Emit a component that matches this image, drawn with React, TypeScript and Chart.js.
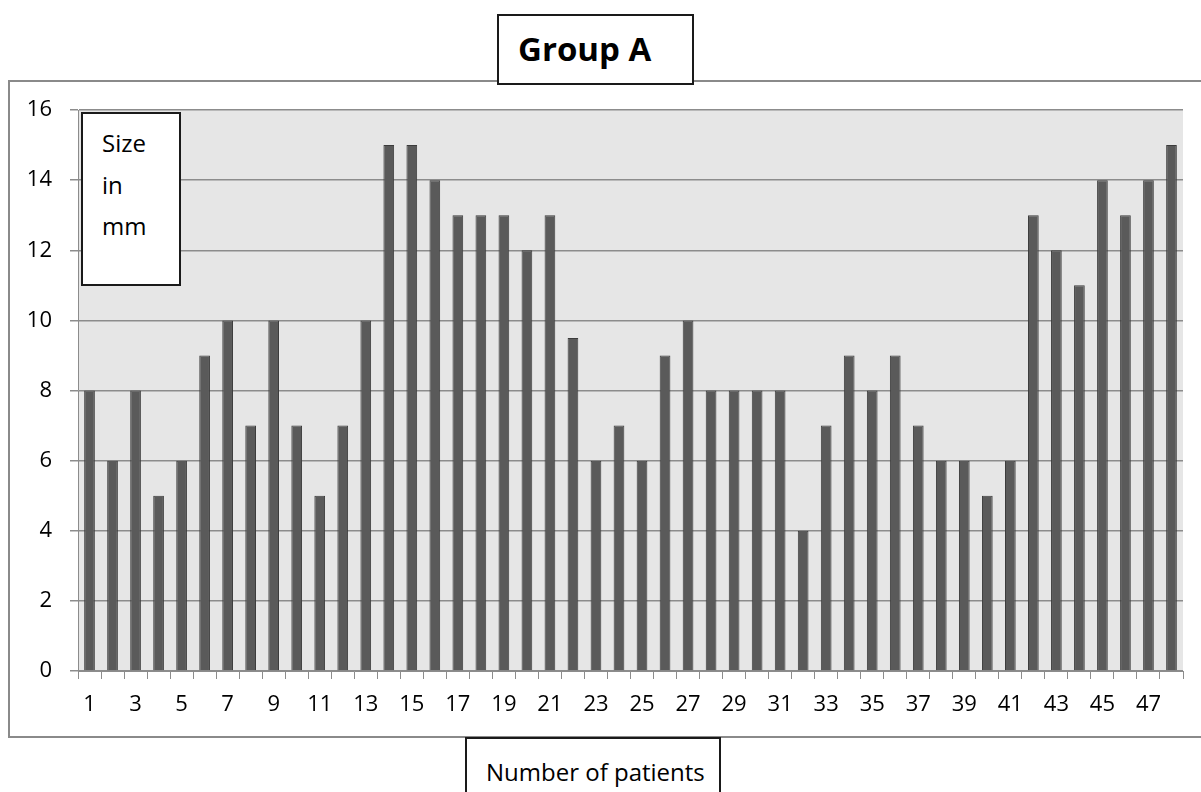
import React, { useEffect, useRef } from "react";
import { Chart, registerables } from "chart.js";

Chart.register(...registerables);

const patients = [
  "1", "2", "3", "4", "5", "6", "7", "8", "9", "10", "11", "12",
  "13", "14", "15", "16", "17", "18", "19", "20", "21", "22", "23", "24",
  "25", "26", "27", "28", "29", "30", "31", "32", "33", "34", "35", "36",
  "37", "38", "39", "40", "41", "42", "43", "44", "45", "46", "47", "48",
];
const sizesMm = [
  8, 6, 8, 5, 6, 9, 10, 7, 10, 7, 5, 7,
  10, 15, 15, 14, 13, 13, 13, 12, 13, 9.5, 6, 7,
  6, 9, 10, 8, 8, 8, 8, 4, 7, 9, 8, 9,
  7, 6, 6, 5, 6, 13, 12, 11, 14, 13, 14, 15,
];
const yMin = 0;
const yMax = 16;
const yStep = 2;

const chartTitle = "Group A";
const xTitle = "Number of patients";
const yTitleLines = ["Size", "in", "mm"];

const FONT = "'Open Sans', sans-serif";

const plotBg = {
  id: "plotBg",
  beforeDraw(chart: any) {
    const { ctx, chartArea } = chart;
    ctx.save();
    ctx.fillStyle = "#e6e6e6";
    ctx.fillRect(chartArea.left, chartArea.top, chartArea.right - chartArea.left, chartArea.bottom - chartArea.top);
    ctx.restore();
  },
};

export default function App() {
  const ref = useRef<HTMLCanvasElement | null>(null);

  useEffect(() => {
    if (!ref.current) return;
    const chart = new Chart(ref.current, {
      type: "bar",
      data: {
        labels: patients,
        datasets: [
          {
            data: sizesMm,
            backgroundColor: "#5a5a5a",
            borderColor: "#3c3c3c",
            borderWidth: 1,
            categoryPercentage: 1,
            barPercentage: 0.465,
          },
        ],
      },
      options: {
        responsive: false,
        animation: false,
        events: [],
        layout: { padding: { left: 0, top: 110, right: 18, bottom: 0 } },
        plugins: {
          legend: { display: false },
          title: { display: false },
          tooltip: { enabled: false },
        },
        scales: {
          x: {
            offset: true,
            grid: {
              offset: true,
              drawOnChartArea: false,
              drawTicks: true,
              tickLength: 8,
              color: "#8c8c8c",
            },
            border: { display: true, color: "#8c8c8c", width: 1 },
            ticks: {
              autoSkip: false,
              maxRotation: 0,
              minRotation: 0,
              padding: 13,
              color: "#000",
              font: { family: FONT, size: 22 },
              callback: (_v: any, i: number) => (i % 2 === 0 ? patients[i] : ""),
            },
            afterFit: (s: any) => {
              s.height = 121;
            },
          },
          y: {
            min: yMin,
            max: yMax,
            ticks: {
              stepSize: yStep,
              padding: 18,
              color: "#000",
              font: { family: FONT, size: 22 },
            },
            grid: {
              color: "#8c8c8c",
              drawTicks: true,
              tickLength: 8,
              lineWidth: 1.5,
            },
            border: { display: true, color: "#8c8c8c", width: 1 },
            afterFit: (s: any) => {
              s.width = 78;
            },
          },
        },
      },
      plugins: [plotBg],
    });
    return () => chart.destroy();
  }, []);

  const boxBorder = "2px solid #1a1a1a";

  return (
    <div style={{ position: "absolute", left: 0, top: 0, width: 1201, height: 792, background: "#fff", overflow: "hidden", fontFamily: FONT }}>
      {/* outer chart border */}
      <div style={{ position: "absolute", left: 8, top: 80, width: 1210, height: 658, border: "2px solid #8a8a8a", boxSizing: "border-box" }} />
      <canvas ref={ref} width={1201} height={792} style={{ position: "absolute", left: 0, top: 0, width: 1201, height: 792 }} />
      {/* title box */}
      <div style={{ position: "absolute", left: 497, top: 14, width: 197, height: 71, border: boxBorder, boxSizing: "border-box", background: "#fff" }} />
      <div style={{ position: "absolute", left: 518, top: 32, fontSize: 33, fontWeight: 700, lineHeight: 1, whiteSpace: "nowrap", color: "#000" }}>{chartTitle}</div>
      {/* y title box */}
      <div style={{ position: "absolute", left: 81, top: 112, width: 100, height: 174, border: boxBorder, boxSizing: "border-box", background: "#fff" }} />
      {yTitleLines.map((t, i) => (
        <div key={t} style={{ position: "absolute", left: 102, top: 131 + i * 41.5, fontSize: 24, lineHeight: 1, whiteSpace: "nowrap", color: "#000" }}>{t}</div>
      ))}
      {/* x title box */}
      <div style={{ position: "absolute", left: 465, top: 737, width: 256, height: 80, border: boxBorder, boxSizing: "border-box", background: "#fff" }} />
      <div style={{ position: "absolute", left: 486, top: 760, fontSize: 24, lineHeight: 1, whiteSpace: "nowrap", color: "#000" }}>{xTitle}</div>
    </div>
  );
}
